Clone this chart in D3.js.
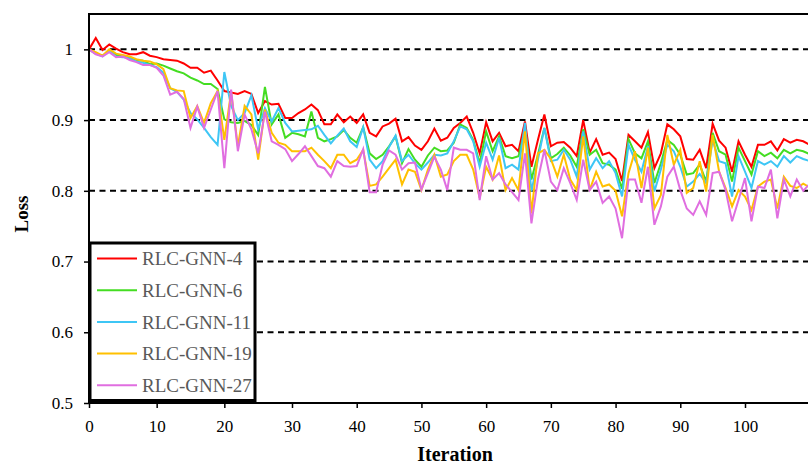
<!DOCTYPE html>
<html>

<head>
    <meta charset="utf-8">
    <title>Loss - RLC-GNN</title>
    <script src="https://d3js.org/d3.v7.min.js"></script>
    <style>
        body { margin: 0; background: #fff; }
        svg { display: block; font-family: "Liberation Serif", "Times New Roman", serif; }
    </style>
</head>

<body>
    <script type="text/javascript">
        // tick labels
        const xTicks = [0, 10, 20, 30, 40, 50, 60, 70, 80, 90, 100];
        const yTicks = [0.5, 0.6, 0.7, 0.8, 0.9, 1];
        const seriesNames = ["RLC-GNN-4", "RLC-GNN-6", "RLC-GNN-11", "RLC-GNN-19", "RLC-GNN-27"];
        const seriesColors = ["#ff0000", "#44dd22", "#3ec6f5", "#ffc000", "#e06ee0"];

        // loss per iteration (index = iteration)
        const lossGnn4 = [
            1.000, 1.016, 0.999, 1.007, 1.001, 0.996, 0.993, 0.993, 0.996, 0.991,
            0.989, 0.986, 0.985, 0.984, 0.980, 0.974, 0.974, 0.967, 0.970, 0.956,
            0.941, 0.939, 0.937, 0.941, 0.937, 0.910, 0.927, 0.922, 0.923, 0.903,
            0.903, 0.910, 0.915, 0.922, 0.914, 0.894, 0.894, 0.908, 0.897, 0.905,
            0.896, 0.908, 0.882, 0.877, 0.891, 0.895, 0.902, 0.870, 0.876, 0.864,
            0.858, 0.870, 0.888, 0.871, 0.875, 0.889, 0.896, 0.905, 0.882, 0.853,
            0.897, 0.870, 0.882, 0.863, 0.865, 0.856, 0.898, 0.834, 0.872, 0.908,
            0.863, 0.868, 0.869, 0.861, 0.849, 0.900, 0.854, 0.873, 0.851, 0.854,
            0.845, 0.814, 0.879, 0.870, 0.861, 0.883, 0.832, 0.853, 0.894, 0.887,
            0.877, 0.845, 0.844, 0.858, 0.832, 0.895, 0.871, 0.861, 0.827, 0.870,
            0.851, 0.834, 0.865, 0.865, 0.870, 0.857, 0.873, 0.868, 0.872, 0.870, 0.865
        ];
        const lossGnn6 = [
            1.000, 0.994, 0.991, 0.998, 0.992, 0.990, 0.988, 0.985, 0.984, 0.979,
            0.980, 0.977, 0.973, 0.969, 0.966, 0.960, 0.956, 0.951, 0.951, 0.944,
            0.901, 0.897, 0.896, 0.899, 0.893, 0.879, 0.947, 0.894, 0.908, 0.875,
            0.882, 0.880, 0.877, 0.912, 0.875, 0.870, 0.873, 0.877, 0.886, 0.875,
            0.868, 0.890, 0.853, 0.845, 0.851, 0.863, 0.877, 0.839, 0.859, 0.844,
            0.834, 0.850, 0.861, 0.856, 0.857, 0.868, 0.894, 0.889, 0.872, 0.839,
            0.884, 0.856, 0.877, 0.849, 0.846, 0.849, 0.887, 0.816, 0.851, 0.889,
            0.846, 0.852, 0.861, 0.850, 0.834, 0.887, 0.851, 0.858, 0.839, 0.837,
            0.830, 0.803, 0.873, 0.853, 0.846, 0.870, 0.811, 0.839, 0.872, 0.865,
            0.851, 0.823, 0.825, 0.837, 0.813, 0.882, 0.856, 0.851, 0.813, 0.861,
            0.842, 0.823, 0.856, 0.849, 0.854, 0.846, 0.858, 0.853, 0.858, 0.856, 0.852
        ];
        const lossGnn11 = [
            1.000, 0.994, 0.990, 0.998, 0.990, 0.989, 0.987, 0.983, 0.981, 0.978,
            0.975, 0.967, 0.945, 0.940, 0.929, 0.910, 0.901, 0.889, 0.876, 0.865,
            0.968, 0.920, 0.900, 0.910, 0.935, 0.887, 0.917, 0.898, 0.917, 0.896,
            0.884, 0.885, 0.886, 0.887, 0.892, 0.879, 0.867, 0.878, 0.888, 0.870,
            0.862, 0.890, 0.844, 0.832, 0.842, 0.862, 0.878, 0.842, 0.851, 0.839,
            0.830, 0.840, 0.851, 0.850, 0.853, 0.870, 0.891, 0.887, 0.870, 0.834,
            0.868, 0.844, 0.875, 0.832, 0.837, 0.830, 0.896, 0.799, 0.844, 0.889,
            0.842, 0.844, 0.858, 0.844, 0.820, 0.884, 0.830, 0.846, 0.832, 0.842,
            0.825, 0.792, 0.865, 0.844, 0.827, 0.863, 0.799, 0.830, 0.865, 0.856,
            0.834, 0.806, 0.813, 0.824, 0.811, 0.872, 0.842, 0.839, 0.792, 0.849,
            0.827, 0.804, 0.842, 0.837, 0.842, 0.834, 0.849, 0.840, 0.849, 0.845, 0.842
        ];
        const lossGnn19 = [
            1.000, 0.996, 0.991, 1.000, 0.994, 0.992, 0.990, 0.986, 0.984, 0.983,
            0.979, 0.972, 0.945, 0.942, 0.941, 0.903, 0.920, 0.896, 0.924, 0.941,
            0.872, 0.940, 0.863, 0.920, 0.908, 0.844, 0.915, 0.882, 0.868, 0.865,
            0.856, 0.856, 0.856, 0.861, 0.851, 0.842, 0.832, 0.851, 0.851, 0.839,
            0.844, 0.858, 0.807, 0.809, 0.820, 0.832, 0.844, 0.809, 0.830, 0.827,
            0.801, 0.830, 0.851, 0.820, 0.823, 0.842, 0.851, 0.851, 0.830, 0.790,
            0.834, 0.816, 0.850, 0.801, 0.818, 0.801, 0.884, 0.768, 0.853, 0.858,
            0.845, 0.820, 0.851, 0.816, 0.801, 0.877, 0.801, 0.827, 0.806, 0.809,
            0.800, 0.764, 0.825, 0.856, 0.804, 0.861, 0.775, 0.794, 0.879, 0.837,
            0.858, 0.797, 0.804, 0.842, 0.799, 0.879, 0.827, 0.804, 0.778, 0.801,
            0.792, 0.773, 0.806, 0.813, 0.816, 0.775, 0.820, 0.807, 0.804, 0.810, 0.805
        ];
        const lossGnn27 = [
            1.000, 0.993, 0.990, 0.996, 0.989, 0.990, 0.985, 0.982, 0.978, 0.978,
            0.974, 0.963, 0.936, 0.940, 0.930, 0.889, 0.919, 0.889, 0.915, 0.941,
            0.832, 0.943, 0.856, 0.908, 0.887, 0.853, 0.912, 0.870, 0.865, 0.859,
            0.842, 0.852, 0.863, 0.849, 0.835, 0.832, 0.820, 0.842, 0.835, 0.834,
            0.835, 0.859, 0.798, 0.798, 0.837, 0.857, 0.851, 0.830, 0.839, 0.840,
            0.802, 0.825, 0.848, 0.830, 0.801, 0.861, 0.858, 0.858, 0.853, 0.787,
            0.849, 0.816, 0.825, 0.809, 0.798, 0.787, 0.853, 0.754, 0.816, 0.858,
            0.813, 0.801, 0.832, 0.811, 0.787, 0.844, 0.801, 0.813, 0.783, 0.792,
            0.775, 0.733, 0.816, 0.816, 0.783, 0.834, 0.752, 0.778, 0.820, 0.834,
            0.801, 0.775, 0.766, 0.785, 0.766, 0.825, 0.827, 0.801, 0.757, 0.787,
            0.818, 0.757, 0.806, 0.804, 0.830, 0.761, 0.816, 0.792, 0.816, 0.800, 0.810
        ];
        const allSeries = [lossGnn4, lossGnn6, lossGnn11, lossGnn19, lossGnn27];

        const width = 808, height = 467;
        const plotLeft = 89, plotTop = 14, plotBottom = 403, plotRight = 821;

        const svg = d3.select("body").append("svg")
            .attr("width", width)
            .attr("height", height);

        // the printed axis is a little wider between 0 and 30 than after it
        const x = d3.scaleLinear().domain([0, 30, 100]).range([89, 292, 745]);
        const y = d3.scaleLinear().domain([0.5, 1.05]).range([plotBottom, plotTop]);

        // dashed grid
        svg.append("g")
            .selectAll("line")
            .data(yTicks.filter(d => d > 0.5))
            .join("line")
            .attr("x1", plotLeft)
            .attr("x2", plotRight)
            .attr("y1", d => y(d))
            .attr("y2", d => y(d))
            .attr("stroke", "#000")
            .attr("stroke-width", 2)
            .attr("stroke-dasharray", "6,4.5");

        // lines
        const line = d3.line()
            .x((d, i) => x(i))
            .y(d => y(d));

        svg.append("g")
            .selectAll("path")
            .data(allSeries)
            .join("path")
            .attr("d", line)
            .attr("fill", "none")
            .attr("stroke", (d, i) => seriesColors[i])
            .attr("stroke-width", 2)
            .attr("stroke-linejoin", "miter");

        // frame
        svg.append("rect")
            .attr("x", plotLeft)
            .attr("y", plotTop)
            .attr("width", plotRight - plotLeft)
            .attr("height", plotBottom - plotTop)
            .attr("fill", "none")
            .attr("stroke", "#000")
            .attr("stroke-width", 2);

        // axes
        const xAxis = svg.append("g")
            .attr("transform", "translate(0," + plotBottom + ")")
            .call(d3.axisBottom(x).tickValues(xTicks).tickSize(5).tickSizeOuter(0).tickPadding(12));
        const yAxis = svg.append("g")
            .attr("transform", "translate(" + plotLeft + ",0)")
            .call(d3.axisLeft(y).tickValues(yTicks).tickSize(5).tickSizeOuter(0).tickPadding(11)
                .tickFormat(d => String(d)));

        [xAxis, yAxis].forEach(g => {
            g.attr("font-family", "Liberation Serif").attr("font-size", 17);
            g.select(".domain").remove();
            g.selectAll(".tick line").attr("stroke", "#000").attr("stroke-width", 1.5);
            g.selectAll("text").attr("fill", "#000");
        });

        // axis titles
        svg.append("text")
            .attr("x", 455)
            .attr("y", 461)
            .attr("text-anchor", "middle")
            .attr("font-size", 20)
            .attr("font-weight", "bold")
            .text("Iteration");

        svg.append("text")
            .attr("transform", "translate(28,214) rotate(-90)")
            .attr("text-anchor", "middle")
            .attr("font-size", 19)
            .attr("font-weight", "bold")
            .text("Loss");

        // legend
        const legend = svg.append("g");
        legend.append("rect")
            .attr("x", 90)
            .attr("y", 243)
            .attr("width", 165)
            .attr("height", 157.5)
            .attr("fill", "#fff")
            .attr("stroke", "#000")
            .attr("stroke-width", 3);

        const items = legend.selectAll("g.item")
            .data(seriesNames)
            .join("g")
            .attr("class", "item")
            .attr("transform", (d, i) => "translate(0," + (258.5 + i * 31.7) + ")");

        items.append("line")
            .attr("x1", 97)
            .attr("x2", 137)
            .attr("stroke", (d, i) => seriesColors[i])
            .attr("stroke-width", 2);

        items.append("text")
            .attr("x", 142)
            .attr("dy", "0.35em")
            .attr("font-size", 19)
            .attr("fill", "#595959")
            .text(d => d);
    </script>
</body>

</html>
